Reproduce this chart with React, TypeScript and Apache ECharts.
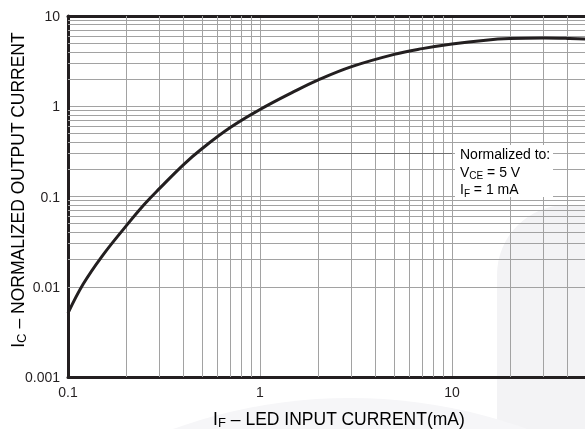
import React, { useEffect, useRef } from "react";
import * as echarts from "echarts";

// ---- data ----
const ifCurrent = [0.1, 0.12, 0.15, 0.2, 0.25, 0.3, 0.4, 0.5, 0.7, 1, 1.5, 2, 3, 5, 7, 10, 15, 20, 30, 40, 50, 70, 100];
const icNormalized = [0.0051, 0.0107, 0.0216, 0.0467, 0.082, 0.123, 0.226, 0.34, 0.58, 0.92, 1.45, 1.95, 2.75, 3.76, 4.35, 4.9, 5.4, 5.62, 5.7, 5.65, 5.56, 5.3, 4.9];

// the reference is cropped just past 50 mA, so no "100" label is visible
const xTickLabels = ["0.1", "1", "10"];
const yTickLabels = ["0.001", "0.01", "0.1", "1", "10"];
const xDecades = [0.1, 1, 10];
const yDecades = [0.001, 0.01, 0.1, 1];
const minorSteps = [2, 3, 4, 5, 6, 7, 8, 9];

const xTitle = "{m|I}{s|F}{m| – LED INPUT CURRENT(mA)}";
const yTitle = "{m|I}{s|C}{m| – NORMALIZED OUTPUT CURRENT}";
const noteText = "{m|Normalized to:}\n{m|V}{s|CE}{m| = 5 V}\n{m|I}{s|F}{m| = 1 mA}";
const darkSegment = { y: 0.3, from: 0.5, to: 10 };

export default function App() {
  const ref = useRef<HTMLDivElement>(null);
  useEffect(() => {
    const chart = echarts.init(ref.current!, null, { renderer: "svg" });
    const font = "'Liberation Sans', Arial, Helvetica, sans-serif";
    const ink = "#231f20";
    const gridColor = "#a2a2a2";
    const minorX = xDecades.flatMap((d) => minorSteps.map((m) => +(d * m).toPrecision(6)));
    const minorY = yDecades.flatMap((d) => minorSteps.map((m) => +(d * m).toPrecision(6)));
    const labelOf = (labels: string[]) => (v: number) => {
      const f = labels.find((l) => Math.abs(Math.log10(Number(l)) - Math.log10(v)) < 1e-6);
      return f ?? "";
    };
    const rich = (size: number, lh: number) => ({
      m: { fontSize: size, fontFamily: font, color: ink, lineHeight: lh, verticalAlign: "middle" },
      s: { fontSize: Math.round(size * 0.74), fontFamily: font, color: ink, lineHeight: 8, verticalAlign: "bottom" },
    });
    const axisLabel = (labels: string[]) => ({
      formatter: labelOf(labels),
      fontSize: 14,
      color: ink,
      fontFamily: font,
      margin: 8,
      showMinLabel: true,
      showMaxLabel: true,
      hideOverlap: false,
    });

    chart.setOption({
      animation: false,
      grid: { left: 68, top: 16, bottom: 52, right: -59, show: false, containLabel: false, outerBoundsMode: "none" },
      xAxis: [
        {
          type: "log",
          logBase: 10,
          min: 0.1,
          max: 100,
          axisLine: { show: true, onZero: false, lineStyle: { color: ink, width: 3 } },
          axisTick: { show: false },
          axisLabel: axisLabel(xTickLabels),
          splitLine: { show: true, lineStyle: { color: gridColor, width: 1 } },
          minorTick: { show: false },
          minorSplitLine: { show: false },
        },
        {
          type: "log",
          logBase: 10,
          min: 0.1,
          max: 100,
          position: "top",
          axisLine: { show: true, onZero: false, lineStyle: { color: ink, width: 3 } },
          axisTick: { show: false },
          axisLabel: { show: false },
          splitLine: { show: false },
        },
      ],
      yAxis: {
        type: "log",
        logBase: 10,
        min: 0.001,
        max: 10,
        axisLine: { show: true, onZero: false, lineStyle: { color: ink, width: 3 } },
        axisTick: { show: false },
        axisLabel: axisLabel(yTickLabels),
        splitLine: { show: true, lineStyle: { color: gridColor, width: 1 } },
        minorTick: { show: false },
        minorSplitLine: { show: false },
      },
      series: [
        {
          type: "line",
          data: [],
          z: 1,
          silent: true,
          markLine: {
            silent: true,
            symbol: ["none", "none"],
            label: { show: false },
            emphasis: { disabled: true },
            lineStyle: { color: gridColor, width: 1, type: "solid" },
            data: [
              ...minorX.map((v) => ({ xAxis: v })),
              ...minorY.map((v) => ({ yAxis: v })),
              [
                { coord: [darkSegment.from, darkSegment.y], lineStyle: { color: "#6f6f6f", width: 1, type: "solid" } },
                { coord: [darkSegment.to, darkSegment.y] },
              ],
            ],
          },
        },
        {
          type: "line",
          data: ifCurrent.map((x, i) => [x, icNormalized[i]]),
          smooth: 0.4,
          showSymbol: false,
          symbol: "none",
          z: 5,
          lineStyle: { color: ink, width: 3 },
          emphasis: { disabled: true },
        },
      ],
      graphic: [
        {
          type: "rect",
          z: -10,
          silent: true,
          shape: { x: 497, y: 205, width: 120, height: 240, r: [70, 0, 0, 0] },
          style: { fill: "#f3f3f5" },
        },
        {
          type: "circle",
          z: -10,
          silent: true,
          shape: { cx: 350, cy: 919, r: 521 },
          style: { fill: "#f6f6f8" },
        },
        {
          type: "rect",
          z: 10,
          silent: true,
          shape: { x: 455, y: 145, width: 98, height: 52 },
          style: { fill: "#ffffff" },
        },
        {
          type: "text",
          z: 11,
          x: 460,
          y: 145.5,
          style: { text: noteText, rich: rich(14, 17.5), align: "left", verticalAlign: "top" },
        },
        {
          type: "text",
          z: 11,
          x: 339,
          y: 419,
          style: { text: xTitle, rich: rich(17.5, 20), align: "center", verticalAlign: "middle" },
        },
        {
          type: "text",
          z: 11,
          x: 18,
          y: 190,
          rotation: Math.PI / 2,
          style: { text: yTitle, rich: rich(17.5, 20), align: "center", verticalAlign: "middle" },
        },
      ],
    });
    return () => chart.dispose();
  }, []);
  return <div ref={ref} style={{ position: "fixed", left: 0, top: 0, width: 585, height: 429 }} />;
}
